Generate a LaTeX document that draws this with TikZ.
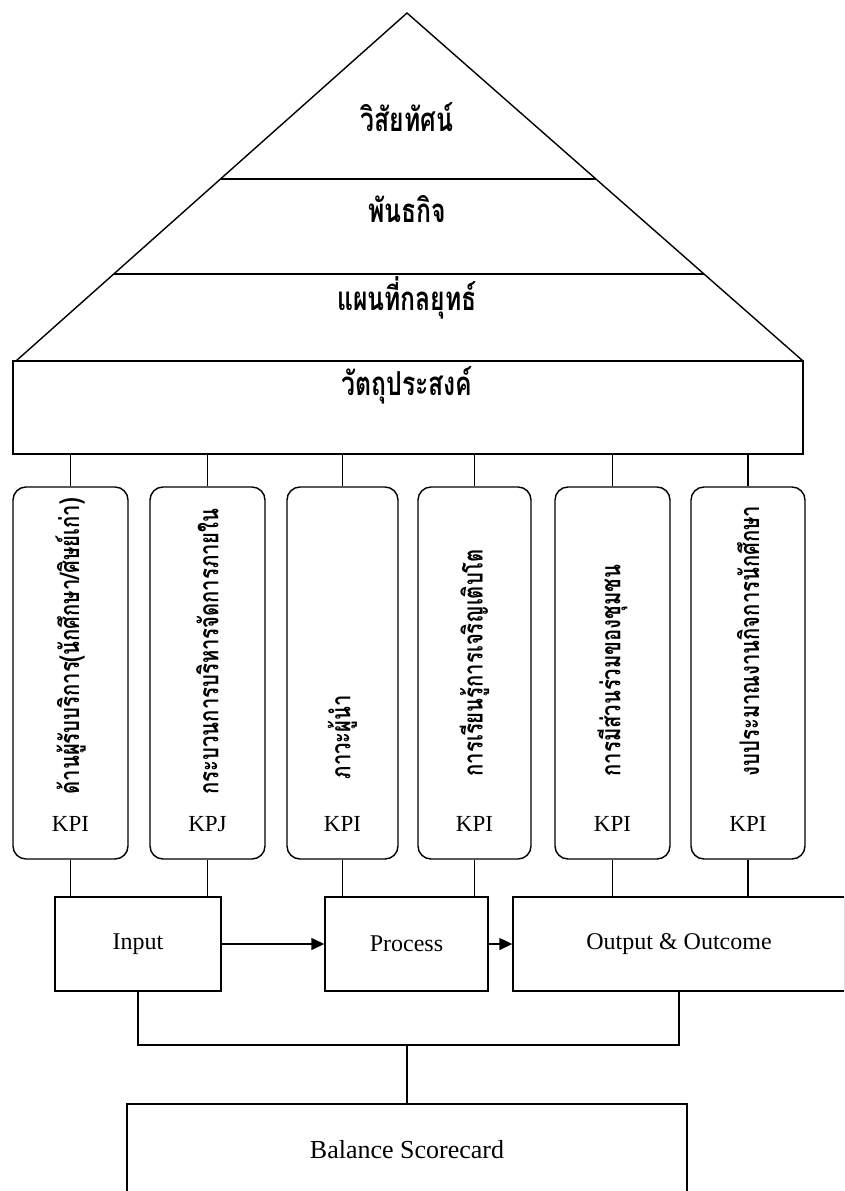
\documentclass[tikz,border=0pt]{standalone}
\usepackage{fontspec}
\usepackage{graphicx}
\setmainfont{Liberation Serif}
\newfontfamily\thaifont[Script=Thai]{Loma}
\usetikzlibrary{arrows.meta}
\newcommand\sqz[1]{\scalebox{0.75}[1]{#1}}
\begin{document}
\begin{tikzpicture}[x=1pt,y=-1pt,line width=1.4pt,
  thai/.style={font=\thaifont\bfseries\fontsize{33}{35}\selectfont, inner sep=0pt},
  vthai/.style={font=\thaifont\bfseries\fontsize{27}{29}\selectfont, inner sep=0pt, rotate=90, anchor=west},
  eng/.style={font=\fontsize{24}{26}\selectfont},
  kpi/.style={font=\fontsize{23}{25}\selectfont, inner sep=0pt},
  kpibox/.style={draw, rounded corners=13pt, minimum height=372pt, inner sep=0pt},
  plainbox/.style={draw, inner sep=0pt},
  link/.style={line width=1.4pt},
  arr/.style={-{Triangle[length=13pt,width=12pt]}, line width=1.4pt}]
\useasboundingbox (0,0) rectangle (844,1191);
\clip (0,0) rectangle (844,1191);
% pyramid
\draw (16,361) -- (407,13) -- (803,361);
\draw (220.5,179) -- (596,179);
\draw (114,274) -- (704,274);
\node[thai] (vision) at (407,117) {\sqz{วิสัยทัศน์}};
\node[thai] (mission) at (407,209) {\sqz{พันธกิจ}};
\node[thai] (smap) at (407,298) {\sqz{แผนที่กลยุทธ์}};
\node[plainbox, minimum width=790pt, minimum height=93pt] (obj) at (408,407.5) {};
\node[thai] (objt) at (407,385) {\sqz{วัตถุประสงค์}};
% perspective boxes
\node[kpibox, minimum width=115pt] (b1) at (70.5,673) {};
\node[kpibox, minimum width=115pt] (b2) at (207.5,673) {};
\node[kpibox, minimum width=111pt] (b3) at (342.5,673) {};
\node[kpibox, minimum width=113pt] (b4) at (474.5,673) {};
\node[kpibox, minimum width=115pt] (b5) at (612.5,673) {};
\node[kpibox, minimum width=114pt] (b6) at (748,673) {};
\node[vthai] (t1) at (70.5,795) {\sqz{ด้านผู้รับบริการ(นักศึกษา/ศิษย์เก่า)}};
\node[vthai] (t2) at (207.5,795) {\sqz{กระบวนการบริหารจัดการภายใน}};
\node[vthai] (t3) at (342.5,780) {\sqz{ภาวะผู้นำ}};
\node[vthai] (t4) at (474.5,777) {\sqz{การเรียนรู้การเจริญเติบโต}};
\node[vthai] (t5) at (612.5,777) {\sqz{การมีส่วนร่วมของชุมชน}};
\node[vthai] (t6) at (748,777) {\sqz{งบประมาณงานกิจการนักศึกษา}};
\node[kpi] (k1) at (70.5,824) {KPI};
\node[kpi] (k2) at (207.5,824) {KPJ};
\node[kpi] (k3) at (342.5,824) {KPI};
\node[kpi] (k4) at (474.5,824) {KPI};
\node[kpi] (k5) at (612.5,824) {KPI};
\node[kpi] (k6) at (748,824) {KPI};
% process boxes
\node[plainbox, eng, minimum width=166pt, minimum height=94pt] (in) at (138,944) {Input};
\node[plainbox, eng, minimum width=163pt, minimum height=94pt] (pr) at (406.5,944) {Process};
\node[plainbox, eng, minimum width=332pt, minimum height=94pt] (out) at (679,944) {Output \& Outcome};
\node[plainbox, font=\fontsize{26}{28}\selectfont, minimum width=560pt, minimum height=92pt] (bs) at (407,1150) {Balance Scorecard};
\coordinate (bus) at (407,1045);
% connectors
\foreach \b in {b1,b2,b3,b4,b5,b6}{
  \draw[link] (\b.north) -- (\b.north |- obj.south);
}
\draw[link] (b1.south) -- (b1.south |- in.north);
\draw[link] (b2.south) -- (b2.south |- in.north);
\draw[link] (b3.south) -- (b3.south |- pr.north);
\draw[link] (b4.south) -- (b4.south |- pr.north);
\draw[link] (b5.south) -- (b5.south |- out.north);
\draw[link] (b6.south) -- (b6.south |- out.north);
\draw[arr] (in.east) -- (pr.west);
\draw[arr] (pr.east) -- (out.west);
\draw[link] (in.south) -- (in.south |- bus) -| (out.south);
\draw[link] (bs.north) -- (bus);
\end{tikzpicture}
\end{document}
